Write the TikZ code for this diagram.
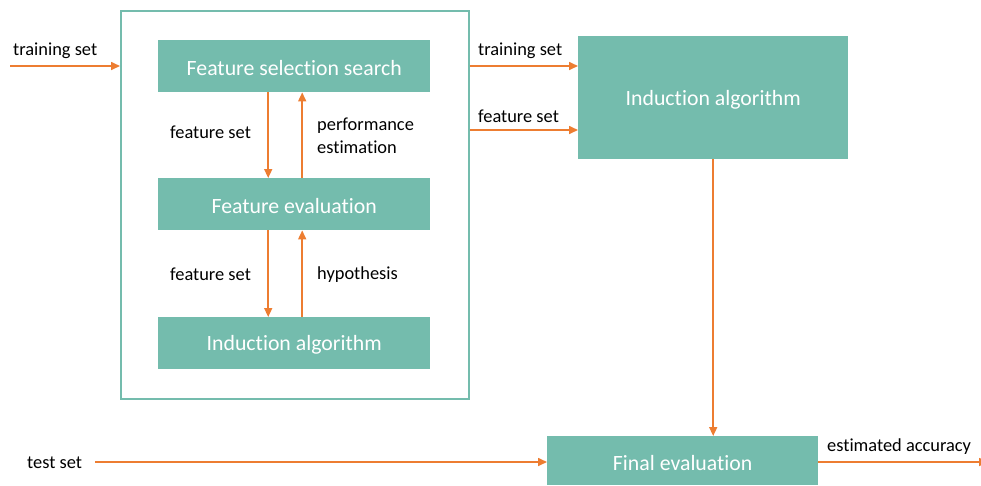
\documentclass[tikz,border=0pt]{standalone}
\usepackage{fontspec}
\setmainfont{Carlito}[Ligatures={NoCommon}]
\usetikzlibrary{arrows.meta}
\definecolor{tealbox}{HTML}{74BCAD}
\definecolor{flow}{HTML}{ED7D31}
% box caption, set slightly below the optical centre
\newcommand\boxtxt[1]{\raisebox{-2pt}[\height][\depth]{#1}}
\tikzset{
  box/.style={fill=tealbox, draw=none, text=white, font=\fontsize{21.8}{26}\selectfont,
              inner sep=0pt, anchor=north west},
  lbl/.style={font=\fontsize{18.4}{23}\selectfont, text=black, inner sep=0pt},
  arr/.style={draw=flow, line width=1.6pt, -{Triangle[length=9pt,width=8pt]}},
  frame/.style={draw=tealbox, line width=1.5pt, anchor=north west, inner sep=0pt}
}
\begin{document}
\begin{tikzpicture}[x=1pt,y=-1pt]
\useasboundingbox (0,0) rectangle (981,485);

% wrapper frame
\node[frame, minimum width=348pt, minimum height=388pt] (frm) at (120,10) {};

% inner boxes
\node[box, minimum width=272pt, minimum height=52pt] (fss) at (158,40) {\boxtxt{Feature selection search}};
\node[box, minimum width=272pt, minimum height=52pt] (fev) at (158,178) {\boxtxt{Feature evaluation}};
\node[box, minimum width=272pt, minimum height=52pt] (ind) at (158,317) {\boxtxt{Induction algorithm}};

% outer boxes
\node[box, minimum width=270pt, minimum height=123pt] (big) at (578,36) {\boxtxt{Induction algorithm}};
\node[box, minimum width=271pt, minimum height=49pt] (fin) at (547,436) {\boxtxt{Final evaluation}};

% free ends
\coordinate (trsrc) at (10,66);
\coordinate (tssrc) at (95,462);
\coordinate (outend) at (988,462);

% input training set
\draw[arr] (trsrc) -- (frm.west |- trsrc);
\node[lbl, anchor=west] (ltr) at (13,51) {training set};

% frame to big induction box
\draw[arr] (frm.east |- 0,66) -- (big.west |- 0,66);
\node[lbl, anchor=west] (ltr2) at (478,51) {training set};
\draw[arr] (frm.east |- 0,130) -- (big.west |- 0,130);
\node[lbl, anchor=west] (lfs2) at (478,116) {feature set};

% search <-> evaluation
\draw[arr] ([xshift=-26pt]fss.south) -- ([xshift=-26pt]fev.north);
\draw[arr] ([xshift=8pt]fev.north) -- ([xshift=8pt]fss.south);
\node[lbl, anchor=west] (lfs) at (170,132) {feature set};
\node[lbl, anchor=west, align=left] (lpe) at (317,135.5) {performance\\estimation};

% evaluation <-> induction
\draw[arr] ([xshift=-26pt]fev.south) -- ([xshift=-26pt]ind.north);
\draw[arr] ([xshift=8pt]ind.north) -- ([xshift=8pt]fev.south);
\node[lbl, anchor=west] (lfs3) at (170,274) {feature set};
\node[lbl, anchor=west] (lhy) at (317,275) {hypothesis};

% induction to final evaluation
\draw[arr] (big.south) -- (big.south |- fin.north);

% test set
\node[lbl, anchor=west] (lts) at (27,463) {test set};
\draw[arr] (tssrc) -- (fin.west |- tssrc);

% output
\draw[arr] (fin.east |- outend) -- (outend);
\node[lbl, anchor=west] (lea) at (827,447) {estimated accuracy};
\end{tikzpicture}
\end{document}
